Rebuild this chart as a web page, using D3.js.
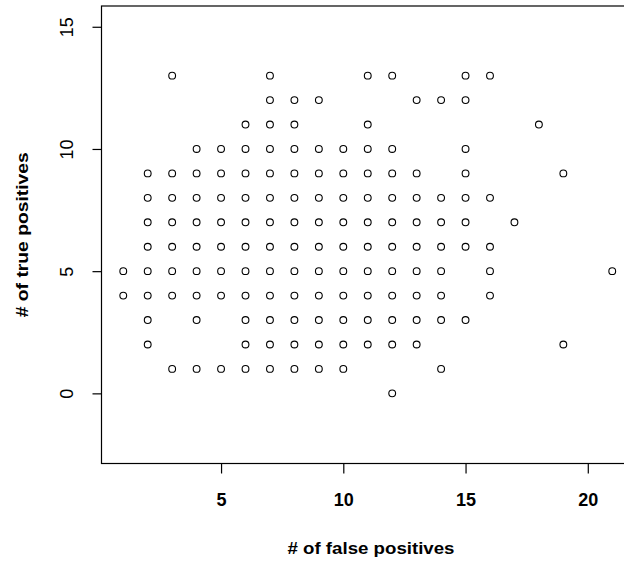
<!DOCTYPE html>
<html>
<head>
<meta charset="utf-8">
<script src="https://cdn.jsdelivr.net/npm/d3@7"></script>
<style>
  html, body { margin: 0; padding: 0; background: #fff; }
  svg { display: block; }
  text { font-family: "Liberation Sans", Arial, sans-serif; fill: #000; }
</style>
</head>
<body>
<svg id="chart" width="624" height="563"></svg>
<script>
// Data: number of true positives (rows) and the false-positive counts observed at each
const truePositives = [0, 1, 2, 3, 4, 5, 6, 7, 8, 9, 10, 11, 12, 13];
const falsePositivesByRow = [
  [12],
  [3, 4, 5, 6, 7, 8, 9, 10, 14],
  [2, 6, 7, 8, 9, 10, 11, 12, 13, 19],
  [2, 4, 6, 7, 8, 9, 10, 11, 12, 13, 14, 15],
  [1, 2, 3, 4, 5, 6, 7, 8, 9, 10, 11, 12, 13, 14, 16],
  [1, 2, 3, 4, 5, 6, 7, 8, 9, 10, 11, 12, 13, 14, 16, 21],
  [2, 3, 4, 5, 6, 7, 8, 9, 10, 11, 12, 13, 14, 15, 16],
  [2, 3, 4, 5, 6, 7, 8, 9, 10, 11, 12, 13, 14, 15, 17],
  [2, 3, 4, 5, 6, 7, 8, 9, 10, 11, 12, 13, 14, 15, 16],
  [2, 3, 4, 5, 6, 7, 8, 9, 10, 11, 12, 13, 15, 19],
  [4, 5, 6, 7, 8, 9, 10, 11, 12, 15],
  [6, 7, 8, 11, 18],
  [7, 8, 9, 13, 14, 15],
  [3, 7, 11, 12, 15, 16]
];
const xTicks = [5, 10, 15, 20];
const yTicks = [0, 5, 10, 15];
const xLabel = "# of false positives";
const yLabel = "# of true positives";

const points = [];
truePositives.forEach((tp, i) => {
  falsePositivesByRow[i].forEach(fp => points.push({fp, tp}));
});

const svg = d3.select("#chart");
const plotLeft = 101.5, plotTop = 6, plotBottom = 463.5, plotRight = 634;

const x = d3.scaleLinear().domain([0.11, 21.89]).range([plotLeft, plotRight]);
const y = d3.scaleLinear().domain([-2.87, 15.85]).range([plotBottom, plotTop]);

// plot box (right edge falls outside the picture)
svg.append("rect")
  .attr("x", plotLeft).attr("y", plotTop)
  .attr("width", plotRight + 10 - plotLeft).attr("height", plotBottom - plotTop)
  .attr("fill", "none").attr("stroke", "#000").attr("stroke-width", 1.2);

// x axis
const xAxis = d3.axisBottom(x).tickValues(xTicks).tickSize(10).tickPadding(20).tickFormat(d3.format("d"));
const gx = svg.append("g").attr("transform", `translate(0,${plotBottom})`).call(xAxis);
gx.select(".domain").remove();
gx.selectAll(".tick line").attr("stroke", "#000").attr("stroke-width", 1.2);
gx.selectAll(".tick text")
  .attr("font-size", 18).attr("font-weight", "bold")
  .style("font-family", "'Liberation Sans', Arial, sans-serif");

// y axis
const yAxis = d3.axisLeft(y).tickValues(yTicks).tickSize(9).tickFormat(d3.format("d"));
const gy = svg.append("g").attr("transform", `translate(${plotLeft},0)`).call(yAxis);
gy.select(".domain").remove();
gy.selectAll(".tick line").attr("stroke", "#000").attr("stroke-width", 1.2);
gy.selectAll(".tick text")
  .attr("x", null).attr("dy", null)
  .attr("text-anchor", "middle")
  .attr("dominant-baseline", "central")
  .attr("transform", "translate(-35,0) rotate(-90)")
  .attr("font-size", 18)
  .style("font-family", "'Liberation Sans', Arial, sans-serif");

// points
svg.append("g").selectAll("circle")
  .data(points)
  .join("circle")
  .attr("cx", d => x(d.fp))
  .attr("cy", d => y(d.tp))
  .attr("r", 3.4)
  .attr("fill", "none")
  .attr("stroke", "#000")
  .attr("stroke-width", 1.1);

// axis titles
svg.append("text")
  .attr("x", 371).attr("y", 554)
  .attr("text-anchor", "middle")
  .attr("font-size", 17).attr("font-weight", "bold")
  .attr("textLength", 167).attr("lengthAdjust", "spacingAndGlyphs")
  .text(xLabel);

svg.append("text")
  .attr("transform", `translate(28,${(plotTop + plotBottom) / 2}) rotate(-90)`)
  .attr("text-anchor", "middle")
  .attr("font-size", 17).attr("font-weight", "bold")
  .attr("textLength", 165).attr("lengthAdjust", "spacingAndGlyphs")
  .text(yLabel);
</script>
</body>
</html>
